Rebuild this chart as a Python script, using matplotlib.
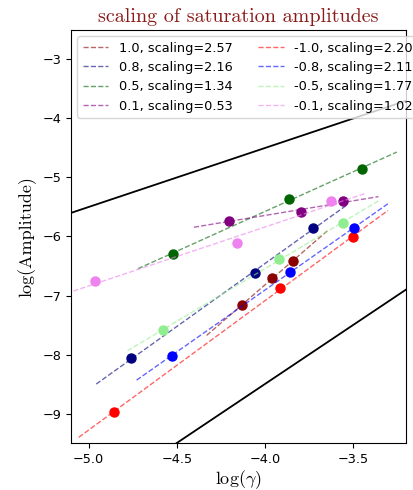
import numpy as np
import matplotlib
matplotlib.use("Agg")
import matplotlib.pyplot as plt

# ── Data ─────────────────────────────────────────────────────────────────────

params   = ["1.0", "0.8", "0.5", "0.1", "-1.0", "-0.8", "-0.5", "-0.1"]
scalings = [2.57, 2.16, 1.34, 0.53, 2.20, 2.11, 1.77, 1.02]
colours  = ["darkred", "navy", "darkgreen", "purple",
            "red", "blue", "lightgreen", "violet"]

log_gamma = [
    [-4.131, -3.958, -3.841],   # 1.0
    [-4.757, -4.055, -3.729],   # 0.8
    [-4.520, -3.866, -3.452],   # 0.5
    [-4.203, -3.797, -3.556],   # 0.1
    [-4.856, -3.913, -3.503],   # -1.0
    [-4.528, -3.860, -3.496],   # -0.8
    [-4.580, -3.923, -3.556],   # -0.5
    [-4.966, -4.159, -3.628],   # -0.1
]
log_amp = [
    [-7.16, -6.71, -6.41],
    [-8.06, -6.62, -5.85],
    [-6.29, -5.36, -4.86],
    [-5.73, -5.58, -5.40],
    [-8.97, -6.88, -6.01],
    [-8.02, -6.60, -5.86],
    [-7.59, -6.38, -5.77],
    [-6.76, -6.11, -5.40],
]

# reference lines: slope 1 and slope 2
ref_slopes     = [1.0, 2.0]
ref_intercepts = [-0.5, -0.5]

XLIM = (-5.1, -3.2)
YLIM = (-9.5, -2.5)
EXTEND = 0.2

plt.rcParams["font.size"] = 9.25
plt.rcParams["mathtext.fontset"] = "cm"
plt.rcParams["axes.unicode_minus"] = True

fig = plt.figure(figsize=(4.14, 4.90), dpi=100)
ax = fig.add_axes([0.1715, 0.0959, 0.8092, 0.8429])

xx = np.array(XLIM)
for m, c in zip(ref_slopes, ref_intercepts):
    ax.plot(xx, m * xx + c, color="black", lw=1.3)

for p, s, col, xs, ys in zip(params, scalings, colours, log_gamma, log_amp):
    xs = np.array(xs)
    ys = np.array(ys)
    k, b = np.polyfit(xs, ys, 1)
    xf = np.array([xs.min() - EXTEND, xs.max() + EXTEND])
    ax.plot(xf, k * xf + b, "--", color=col, lw=1.0, alpha=0.6,
            label=f"{p}, scaling={s:.2f}")
    ax.plot(xs, ys, "o", color=col, ms=6.5)

ax.set_xlim(*XLIM)
ax.set_ylim(*YLIM)
ax.set_xticks([-5.0, -4.5, -4.0, -3.5])
ax.set_yticks([-9, -8, -7, -6, -5, -4, -3])

ax.set_title("scaling of saturation amplitudes", family="cmr10",
             fontsize=14.5, color="#8b1a1a", pad=6)
ax.set_xlabel(r"log($\gamma$)", family="cmr10", fontsize=13, labelpad=2)
ax.set_ylabel("log(Amplitude)", family="cmr10", fontsize=13)

ax.legend(loc="upper left", ncol=2, fontsize=9.25)

fig.savefig("out.png", dpi=100)
